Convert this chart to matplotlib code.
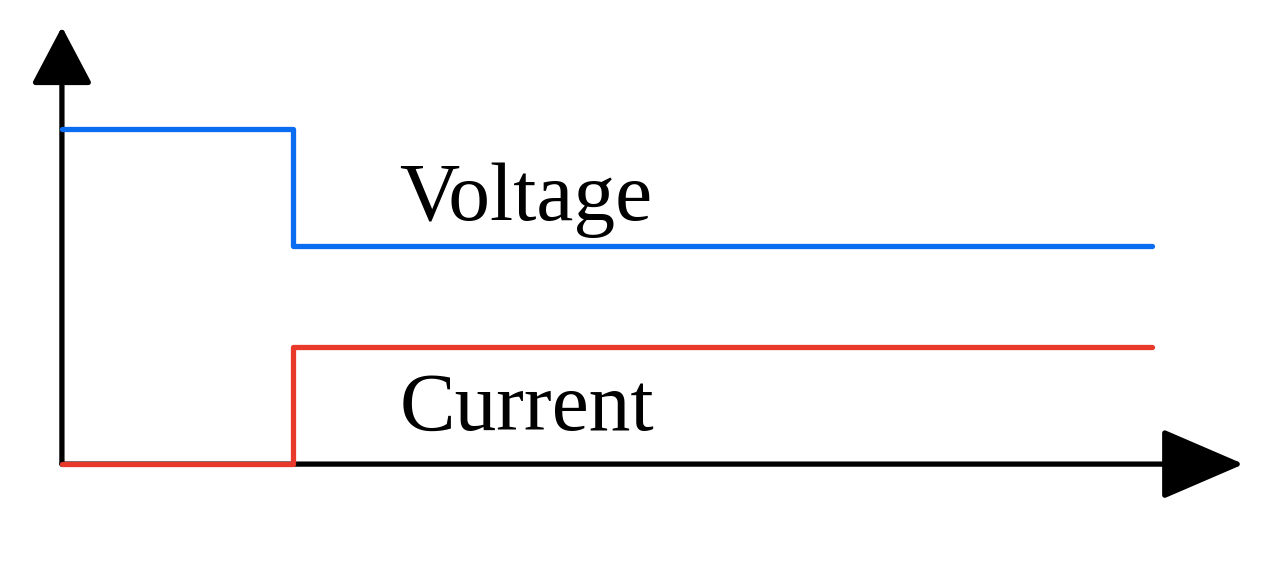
import numpy as np
import matplotlib.pyplot as plt

# step at t=1, levels scaled so the initial voltage is 1
time = [0, 1.0, 4.72]
voltage = [1.0, 0.65, 0.65]
current = [0.0, 0.35, 0.35]
labels = ['Voltage', 'Current']
label_pos = [(1.46, 0.728), (1.46, 0.101)]

blue = '#0a6cf0'
red = '#e8392b'
lw = 3.8

fig = plt.figure(figsize=(12.7, 5.72), dpi=100)
ax = fig.add_axes([0, 0, 1, 1])
ax.set_xlim(-0.268, 5.229)
ax.set_ylim(-0.322, 1.385)
ax.axis('off')

# axes with arrow heads
ax.annotate('', xy=(0, 1.305), xytext=(0, 0),
            arrowprops=dict(arrowstyle='-|>,head_length=1.8,head_width=0.95',
                            mutation_scale=20, lw=lw, color='black',
                            shrinkA=0, shrinkB=0, joinstyle='round'))
ax.annotate('', xy=(5.115, 0), xytext=(0, 0),
            arrowprops=dict(arrowstyle='-|>,head_length=2.6,head_width=1.12',
                            mutation_scale=20, lw=lw, color='black',
                            shrinkA=0, shrinkB=0, joinstyle='round'))

ax.step(time, voltage, where='post', color=blue, lw=lw, solid_capstyle='round', zorder=5)
ax.step(time, current, where='post', color=red, lw=lw, solid_capstyle='round', zorder=5)

for txt, (x, y) in zip(labels, label_pos):
    ax.text(x, y, txt, fontsize=60, family='Liberation Serif', va='baseline', ha='left')

fig.savefig('out.png', dpi=100)
